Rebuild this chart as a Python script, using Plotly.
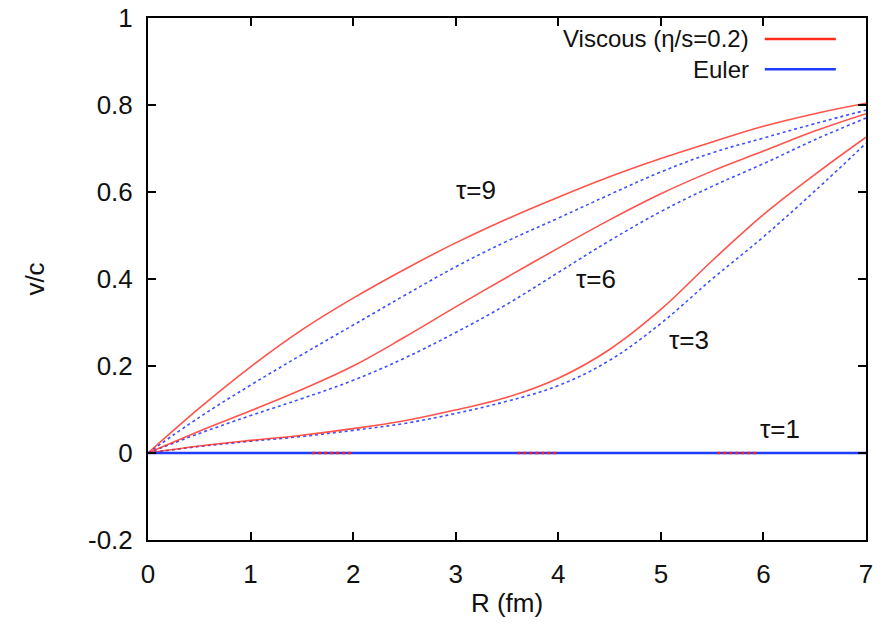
import plotly.graph_objects as go

R = [0, 0.5, 1, 1.5, 2, 2.5, 3, 3.5, 4, 4.5, 5, 5.5, 6, 6.5, 7]

visc_t9 = [0, 0.103, 0.198, 0.283, 0.356, 0.422, 0.483, 0.538, 0.588, 0.635, 0.677, 0.715, 0.751, 0.780, 0.804]
euler_t9 = [0, 0.082, 0.156, 0.226, 0.294, 0.362, 0.428, 0.487, 0.540, 0.594, 0.646, 0.690, 0.724, 0.757, 0.788]
visc_t6 = [0, 0.050, 0.097, 0.146, 0.200, 0.266, 0.336, 0.404, 0.471, 0.536, 0.596, 0.648, 0.694, 0.740, 0.780]
euler_t6 = [0, 0.045, 0.086, 0.125, 0.167, 0.218, 0.277, 0.342, 0.415, 0.488, 0.555, 0.613, 0.665, 0.720, 0.770]
visc_t3 = [0, 0.016, 0.029, 0.041, 0.056, 0.074, 0.099, 0.128, 0.172, 0.238, 0.330, 0.442, 0.548, 0.640, 0.726]
euler_t3 = [0, 0.015, 0.027, 0.038, 0.052, 0.068, 0.091, 0.119, 0.155, 0.213, 0.298, 0.400, 0.497, 0.602, 0.712]

R_t1 = [0, 7]
euler_t1 = [0, 0]
# viscous tau=1 only visible as short red segments along v=0
R_t1v = [1.6, 2.0, None, 3.6, 4.0, None, 5.55, 5.95]
visc_t1 = [0, 0, None, 0, 0, None, 0, 0]

labels = ["τ=9", "τ=6", "τ=3", "τ=1"]
label_R = [3.2, 4.37, 5.27, 6.16]
label_v = [0.605, 0.40, 0.26, 0.055]

FONT = "Liberation Sans, Arial, Helvetica"
FS = 26
RED = "rgba(255,40,30,0.8)"
BLUE = "rgba(40,60,255,0.9)"

fig = go.Figure()

for v in [euler_t9, euler_t6, euler_t3]:
    fig.add_trace(go.Scatter(x=R, y=v, mode="lines", showlegend=False,
                             line=dict(color=BLUE, width=1.6, dash="dot", shape="spline", smoothing=1.1)))
for v in [visc_t9, visc_t6, visc_t3]:
    fig.add_trace(go.Scatter(x=R, y=v, mode="lines", showlegend=False,
                             line=dict(color=RED, width=1.6, shape="spline", smoothing=1.1)))

fig.add_trace(go.Scatter(x=R_t1, y=euler_t1, mode="lines", showlegend=False,
                         line=dict(color="#1f3cff", width=2.5)))
fig.add_trace(go.Scatter(x=R_t1v, y=visc_t1, mode="lines", showlegend=False, connectgaps=False,
                         line=dict(color="#ff2010", width=2.6, dash="dot")))

for t, x, y in zip(labels, label_R, label_v):
    fig.add_annotation(x=x, y=y, text=t, showarrow=False,
                       font=dict(family=FONT, size=FS, color="#111"))

# gnuplot-style legend: text right-aligned, sample line on the right
leg_names = ["Viscous (η/s=0.2)", "Euler"]
leg_colors = ["#ff2a1a", "#1f3cff"]
leg_y = [0.960, 0.902]
for name, col, yy in zip(leg_names, leg_colors, leg_y):
    fig.add_annotation(xref="paper", yref="paper", x=0.840, y=yy, text=name,
                       showarrow=False, xanchor="right", yanchor="middle",
                       font=dict(family=FONT, size=24, color="#111"))
    fig.add_shape(type="line", xref="paper", yref="paper", x0=0.859, x1=0.958, y0=yy, y1=yy,
                  line=dict(color=col, width=2.5))

axis_common = dict(showgrid=False, zeroline=False, showline=True, linecolor="black", linewidth=2,
                   mirror="allticks", ticks="inside", ticklen=8, tickwidth=2, tickcolor="black",
                   automargin=False,
                   tickfont=dict(family=FONT, size=FS, color="#111"))

fig.update_xaxes(range=[0, 7], tickmode="array", tickvals=[0, 1, 2, 3, 4, 5, 6, 7],
                 title=dict(text="R (fm)", font=dict(family=FONT, size=FS, color="#111"), standoff=6),
                 ticklabelstandoff=10, **axis_common)
fig.update_yaxes(range=[-0.2, 1], tickmode="array", tickvals=[-0.2, 0, 0.2, 0.4, 0.6, 0.8, 1],
                 ticktext=["-0.2", "0", "0.2", "0.4", "0.6", "0.8", "1"],
                 title=dict(text="v/c", font=dict(family=FONT, size=FS, color="#111"), standoff=36),
                 ticklabelstandoff=8, **axis_common)

fig.update_layout(width=890, height=626, margin=dict(l=148, r=24, t=18, b=86),
                  paper_bgcolor="white", plot_bgcolor="white", showlegend=False)

fig.write_html("out.html")
